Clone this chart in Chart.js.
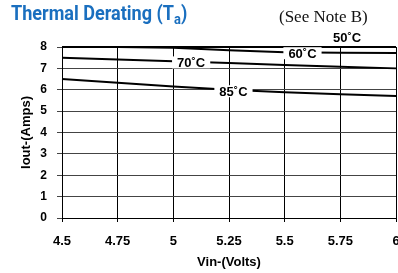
<!DOCTYPE html>
<html>
<head>
<meta charset="utf-8">
<script src="https://cdn.jsdelivr.net/npm/chart.js@4.4.1/dist/chart.umd.min.js"></script>
<style>
  body { margin: 0; background: #fff; }
  #wrap { position: relative; width: 398px; height: 273px; }
  #title { position: absolute; left: 11px; top: 1px; font: bold 21px "Roboto", sans-serif; color: #1a6fbf; white-space: nowrap; transform: scaleX(0.86); transform-origin: 0 0; }
  #title sub { font-size: 15px; vertical-align: -4px; }
  #note { position: absolute; left: 279px; top: 7px; font: 17px "Liberation Serif", serif; color: #111; white-space: nowrap; }
</style>
</head>
<body>
<div id="wrap">
  <canvas id="derating" width="398" height="273"></canvas>
  <div id="title">Thermal Derating (T<sub>a</sub>)</div>
  <div id="note">(See Note B)</div>
</div>
<script>
// input voltage (V)
const vin = [4.5, 4.75, 5, 5.25, 5.5, 5.75, 6];
// output current (A) per ambient temperature
const t50 = [8, 8, 8, 8, 8, 8, 8];
const t60 = [8, 8, 7.97, 7.85, 7.75, 7.73, 7.72];
const t70 = [7.5, 7.41, 7.33, 7.25, 7.16, 7.08, 7.0];
const t85 = [6.5, 6.33, 6.15, 6.0, 5.88, 5.79, 5.71];
const yTicks = [0, 1, 2, 3, 4, 5, 6, 7, 8];

// where the curve names sit, in axis units
const curveLabels = [
    { text: '50˚C', x: 5.78, y: 8.43, box: false },
    { text: '60˚C', x: 5.58, y: 7.71, box: true },
    { text: '70˚C', x: 5.08, y: 7.28, box: true },
    { text: '85˚C', x: 5.27, y: 5.93, box: true }
];

const toPts = arr => arr.map((v, i) => ({ x: vin[i], y: v }));
const font = size => ({ family: '"Liberation Sans", Arial', size: size, weight: 'bold' });

const labelPlugin = {
    id: 'curveLabels',
    afterDatasetsDraw(chart) {
        const ctx = chart.ctx;
        const xs = chart.scales.x, ys = chart.scales.y;
        ctx.save();
        ctx.font = 'bold 13px "Liberation Sans", Arial, sans-serif';
        ctx.textAlign = 'center';
        ctx.textBaseline = 'middle';
        curveLabels.forEach(l => {
            const px = xs.getPixelForValue(l.x);
            const py = ys.getPixelForValue(l.y);
            const w = ctx.measureText(l.text).width;
            if (l.box) {
                ctx.fillStyle = '#fff';
                ctx.fillRect(px - w / 2 - 5, py - 6, w + 10, 12);
            }
            ctx.fillStyle = '#000';
            ctx.fillText(l.text, px, py + 1);
        });
        ctx.restore();
    }
};

const line = data => ({
    data: toPts(data),
    borderColor: '#000',
    borderWidth: 2,
    pointRadius: 0,
    tension: 0,
    clip: false
});

new Chart(document.getElementById('derating').getContext('2d'), {
    type: 'line',
    data: {
        datasets: [line(t50), line(t60), line(t70), line(t85)]
    },
    options: {
        responsive: false,
        animation: false,
        layout: { padding: { left: 12, top: 47, right: 2, bottom: 3 } },
        plugins: { legend: { display: false }, tooltip: { enabled: false } },
        scales: {
            x: {
                type: 'linear',
                min: 4.5,
                max: 6,
                afterBuildTicks: s => { s.ticks = vin.map(v => ({ value: v })); },
                afterFit: s => { s.height = 52; s.paddingLeft = 0; s.paddingRight = 0; },
                ticks: {
                    color: '#000',
                    padding: 12,
                    maxRotation: 0,
                    font: font(13),
                    callback: v => String(v)
                },
                grid: { color: '#000', lineWidth: 1, tickLength: 4 },
                border: { color: '#000', width: 1 },
                title: {
                    display: true,
                    text: 'Vin-(Volts)',
                    color: '#000',
                    padding: { top: 0, bottom: 0 },
                    font: font(13)
                }
            },
            y: {
                min: 0,
                max: 8,
                afterBuildTicks: s => { s.ticks = yTicks.map(v => ({ value: v })); },
                afterFit: s => { s.width = 50; s.paddingTop = 0; s.paddingBottom = 0; },
                ticks: {
                    color: '#000',
                    padding: 10,
                    font: font(12)
                },
                grid: { color: '#444', lineWidth: 1, tickLength: 5 },
                border: { color: '#000', width: 1 },
                title: {
                    display: true,
                    text: 'Iout-(Amps)',
                    color: '#000',
                    padding: { top: 7, bottom: 0 },
                    font: font(13)
                }
            }
        }
    },
    plugins: [labelPlugin]
});
</script>
</body>
</html>
